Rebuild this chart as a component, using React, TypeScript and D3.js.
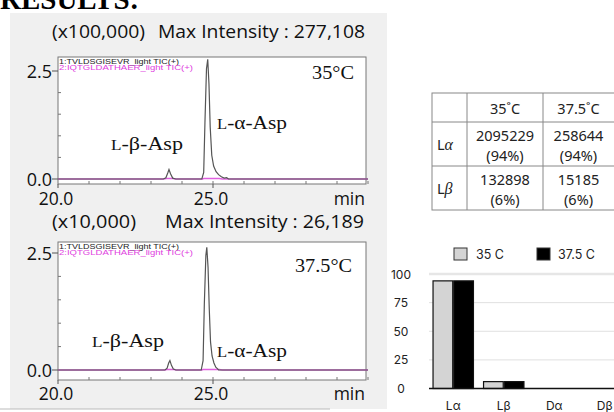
import React from "react";
import * as d3 from "d3";

// ---------- Data ----------
const traceLabels = ["1:TVLDSGISEVR_light TIC(+)", "2:IQTGLDATHAER_light TIC(+)"];

// 35°C chromatogram (x100,000)
const trace35: [number, number][] = [
  [20, 0], [23.4, 0], [23.48, 0.03], [23.54, 0.14], [23.58, 0.22], [23.63, 0.12], [23.7, 0.02], [23.8, 0],
  [24.64, 0], [24.7, 0.15], [24.74, 1.3], [24.79, 2.55], [24.83, 2.77], [24.87, 2.2], [24.91, 1.2],
  [24.96, 0.55], [25.02, 0.3], [25.1, 0.17], [25.18, 0.1], [25.27, 0.05], [25.36, 0.02], [25.44, 0.03], [25.5, 0], [30, 0],
];
const magenta35: [number, number][] = [
  [20, 0], [23.4, 0], [23.5, 0.01], [23.7, 0.01], [23.8, 0], [24.66, 0], [24.7, 0.01], [25.2, 0.01], [25.3, 0], [30, 0],
];
// 37.5°C chromatogram (x10,000)
const trace375: [number, number][] = [
  [20, 0], [23.45, 0], [23.52, 0.04], [23.57, 0.15], [23.61, 0.2], [23.66, 0.1], [23.72, 0.02], [23.8, 0],
  [24.62, 0], [24.68, 0.2], [24.72, 1.4], [24.77, 2.45], [24.8, 2.62], [24.84, 2.2], [24.88, 1.3],
  [24.92, 0.6], [24.97, 0.3], [25.03, 0.15], [25.09, 0.06], [25.14, 0.03], [25.18, 0], [30, 0],
];
const magenta375: [number, number][] = [
  [20, 0], [23.45, 0], [23.5, 0.01], [23.75, 0.01], [23.82, 0], [24.64, 0], [24.68, 0.01], [25.2, 0.01], [25.3, 0], [30, 0],
];

const panels = [
  { scale: "(x100,000)", maxText: "Max Intensity : 277,108", temp: "35°C", trace: trace35, magenta: magenta35 },
  { scale: "(x10,000)", maxText: "Max Intensity :  26,189", temp: "37.5°C", trace: trace375, magenta: magenta375 },
];

// Table
const tableCols = ["35˚C", "37.5˚C"];
const tableRows = ["α", "β"];
const tableCounts = [
  [2095229, 258644],
  [132898, 15185],
];
const tablePct = [
  [94, 94],
  [6, 6],
];

// Bar chart
const barCategories = ["Lα", "Lβ", "Dα", "Dβ"];
const seriesNames = ["35 C", "37.5 C"];
const series35 = [94, 6, 0, 0];
const series375 = [94, 6, 0, 0];
const yTicks = [0, 25, 50, 75, 100];

// ---------- Components ----------
const calibri = "'Open Sans', 'Liberation Sans', sans-serif";
const serif = "'Liberation Serif', 'DejaVu Serif', serif";

type Layout = {
  titleY: number; boxTop: number; boxBottom: number; y25: number; y0: number; labelY: number;
  scaleW: number; maxX: number; maxW: number;
  tempX: number; tempY: number; tempW: number;
  betaX: number; betaY: number; alphaX: number; alphaY: number;
};

const layouts: Layout[] = [
  { titleY: 38, boxTop: 57, boxBottom: 184, y25: 71, y0: 179, labelY: 205, scaleW: 93, maxX: 158, maxW: 207,
    tempX: 312, tempY: 79, tempW: 42, betaX: 111, betaY: 150, alphaX: 217, alphaY: 129 },
  { titleY: 228, boxTop: 242, boxBottom: 380, y25: 253, y0: 370, labelY: 400, scaleW: 84, maxX: 165, maxW: 199,
    tempX: 295, tempY: 272, tempW: 57, betaX: 92, betaY: 347, alphaX: 217, alphaY: 357 },
];

function Chromatogram({ idx }: { idx: number }) {
  const p = panels[idx];
  const L = layouts[idx];
  const x = d3.scaleLinear().domain([20, 30]).range([58, 368]);
  const y = d3.scaleLinear().domain([0, 2.5]).range([L.y0, L.y25]);
  const line = d3.line<[number, number]>().x((d) => x(d[0])).y((d) => y(d[1]));
  const minorX = d3.range(21, 31, 1);
  const minorY = [0.5, 1.0, 1.5, 2.0];
  return (
    <g>
      <text x={52} y={L.titleY} fontFamily={calibri} fontSize={18} fill="#111" textLength={L.scaleW} lengthAdjust="spacingAndGlyphs">{p.scale}</text>
      <text x={L.maxX} y={L.titleY} fontFamily={calibri} fontSize={18} fill="#111" textLength={L.maxW} lengthAdjust="spacingAndGlyphs">{p.maxText}</text>
      <rect x={58} y={L.boxTop} width={308} height={L.boxBottom - L.boxTop} fill="#fff" stroke="#777" strokeWidth={1} />
      <text x={59} y={L.boxTop + 6.5} fontFamily="'Liberation Sans', sans-serif" fontSize={7} fill="#222" textLength={120} lengthAdjust="spacingAndGlyphs">{traceLabels[0]}</text>
      <text x={59} y={L.boxTop + 13} fontFamily="'Liberation Sans', sans-serif" fontSize={7} fill="#e040e0" textLength={134} lengthAdjust="spacingAndGlyphs">{traceLabels[1]}</text>
      {/* y ticks */}
      {[0, 2.5].map((v) => (
        <g key={v}>
          <line x1={52} x2={58} y1={y(v)} y2={y(v)} stroke="#555" />
          <text x={52} y={y(v) + 6.5} fontFamily={calibri} fontSize={18} textAnchor="end" fill="#111">{v.toFixed(1)}</text>
        </g>
      ))}
      {minorY.map((v) => (
        <line key={v} x1={58} x2={61} y1={y(v)} y2={y(v)} stroke="#777" />
      ))}
      {/* x ticks */}
      {minorX.map((v) => (
        <line key={v} x1={x(v)} x2={x(v)} y1={L.boxBottom} y2={L.boxBottom - 3} stroke="#777" />
      ))}
      {[20, 25].map((v) => (
        <g key={v}>
          <line x1={x(v)} x2={x(v)} y1={L.boxBottom} y2={L.boxBottom + 4} stroke="#555" />
          <text x={x(v) - 2} y={L.labelY} fontFamily={calibri} fontSize={17.5} textAnchor="middle" fill="#111">{v.toFixed(1)}</text>
        </g>
      ))}
      <text x={365} y={L.labelY} fontFamily={calibri} fontSize={17.5} textAnchor="end" fill="#111">min</text>
      {/* traces */}
      <path d={line(p.magenta) || ""} fill="none" stroke="#e060e0" strokeWidth={1.5} />
      <path d={line(p.trace) || ""} fill="none" stroke="#555" strokeWidth={1.2} />
      <text x={L.tempX} y={L.tempY} fontFamily={serif} fontSize={18} fill="#111" textLength={L.tempW} lengthAdjust="spacingAndGlyphs">{p.temp}</text>
      <text x={L.betaX} y={L.betaY} fontFamily={serif} fontSize={18} fill="#111" textLength={72} lengthAdjust="spacingAndGlyphs">
        <tspan fontSize={14}>L</tspan>-β-Asp
      </text>
      <text x={L.alphaX} y={L.alphaY} fontFamily={serif} fontSize={18} fill="#111" textLength={70} lengthAdjust="spacingAndGlyphs">
        <tspan fontSize={14}>L</tspan>-α-Asp
      </text>
    </g>
  );
}

function DataTable() {
  const colX = [432, 467, 543, 620];
  const rowY = [93, 122, 166, 210];
  const font = "'Noto Sans', sans-serif";
  const fs = 14.5;
  return (
    <g fontFamily={font} fill="#222">
      <rect x={colX[0]} y={rowY[0]} width={colX[3] - colX[0]} height={rowY[3] - rowY[0]} fill="#fff" stroke="#888" />
      {colX.slice(1, 3).map((cx) => (
        <line key={cx} x1={cx} x2={cx} y1={rowY[0]} y2={rowY[3]} stroke="#888" />
      ))}
      {rowY.slice(1, 3).map((ry) => (
        <line key={ry} x1={colX[0]} x2={colX[3]} y1={ry} y2={ry} stroke="#888" />
      ))}
      {tableCols.map((c, i) => (
        <text key={c} x={(colX[i + 1] + colX[i + 2]) / 2 - (i === 1 ? 3 : 0)} y={rowY[0] + 21} fontSize={fs} textAnchor="middle">{c}</text>
      ))}
      {tableRows.map((r, i) => (
        <g key={r}>
          <text x={colX[0] + 5} y={(rowY[i + 1] + rowY[i + 2]) / 2 + 5.5} fontSize={fs}>
            L<tspan fontStyle="italic" fontFamily={serif} fontSize={16}>{r}</tspan>
          </text>
          {tableCounts[i].map((v, j) => (
            <g key={j}>
              <text x={(colX[j + 1] + colX[j + 2]) / 2 - (j === 1 ? 3 : 0)} y={rowY[i + 1] + 18.5} fontSize={fs} textAnchor="middle">{String(v)}</text>
              <text x={(colX[j + 1] + colX[j + 2]) / 2 - (j === 1 ? 3 : 0)} y={rowY[i + 1] + 39} fontSize={fs} textAnchor="middle">({tablePct[i][j]}%)</text>
            </g>
          ))}
        </g>
      ))}
    </g>
  );
}

function BarChart() {
  const font = "Inter, 'Noto Sans', sans-serif";
  const x0 = d3.scaleBand().domain(barCategories).range([429, 629]).paddingInner(0.2).paddingOuter(0.08);
  const x1 = d3.scaleBand().domain(seriesNames).range([0, x0.bandwidth()]).paddingInner(0.05);
  const y = d3.scaleLinear().domain([0, 100]).range([388.5, 274]);
  const all = [series35, series375];
  const fills = ["#d4d4d4", "#000"];
  return (
    <g fontFamily={font}>
      {yTicks.map((t) => (
        <g key={t}>
          {t > 0 && <line x1={429} x2={614} y1={y(t)} y2={y(t)} stroke={t === 100 ? "#e6e6e6" : "#e0e0e0"} strokeWidth={t === 100 ? 2.5 : 1} />}
          <text x={401} y={y(t) + 4.5} fontSize={12} textAnchor="middle" fill="#222">{t}</text>
        </g>
      ))}
      {barCategories.map((c, i) => (
        <g key={c}>
          {all.map((s, j) =>
            s[i] > 0 ? (
              <rect key={j} x={(x0(c) || 0) + (x1(seriesNames[j]) || 0)} y={y(s[i])} width={x1.bandwidth()} height={y(0) - y(s[i])}
                fill={fills[j]} stroke="#111" strokeWidth={1.2} />
            ) : null
          )}
          <text x={(x0(c) || 0) + x0.bandwidth() / 2} y={410} fontSize={12} textAnchor="middle" fill="#222">{c}</text>
        </g>
      ))}
      <line x1={429} x2={614} y1={y(0)} y2={y(0)} stroke="#111" strokeWidth={1.5} />
      {seriesNames.map((s, j) => (
        <g key={s}>
          <rect x={[454, 537][j]} y={248} width={13} height={12} fill={fills[j]} stroke="#333" strokeWidth={1} />
          <text x={[476, 558][j]} y={259} fontSize={12.5} fill="#222">{s}</text>
        </g>
      ))}
    </g>
  );
}

export default function App() {
  return (
    <svg width={614} height={412} style={{ position: "absolute", left: 0, top: 0, background: "#fff" }}>
      <rect x={0} y={0} width={614} height={412} fill="#fff" />
      <rect x={10} y={13} width={377} height={396} fill="#f0f0f0" />
      <line x1={0} x2={330} y1={409} y2={409} stroke="#bbb" strokeWidth={1} />
      <text x={0} y={9} fontFamily={serif} fontWeight="bold" fontSize={29}>RESULTS:</text>
      <Chromatogram idx={0} />
      <Chromatogram idx={1} />
      <DataTable />
      <BarChart />
    </svg>
  );
}
